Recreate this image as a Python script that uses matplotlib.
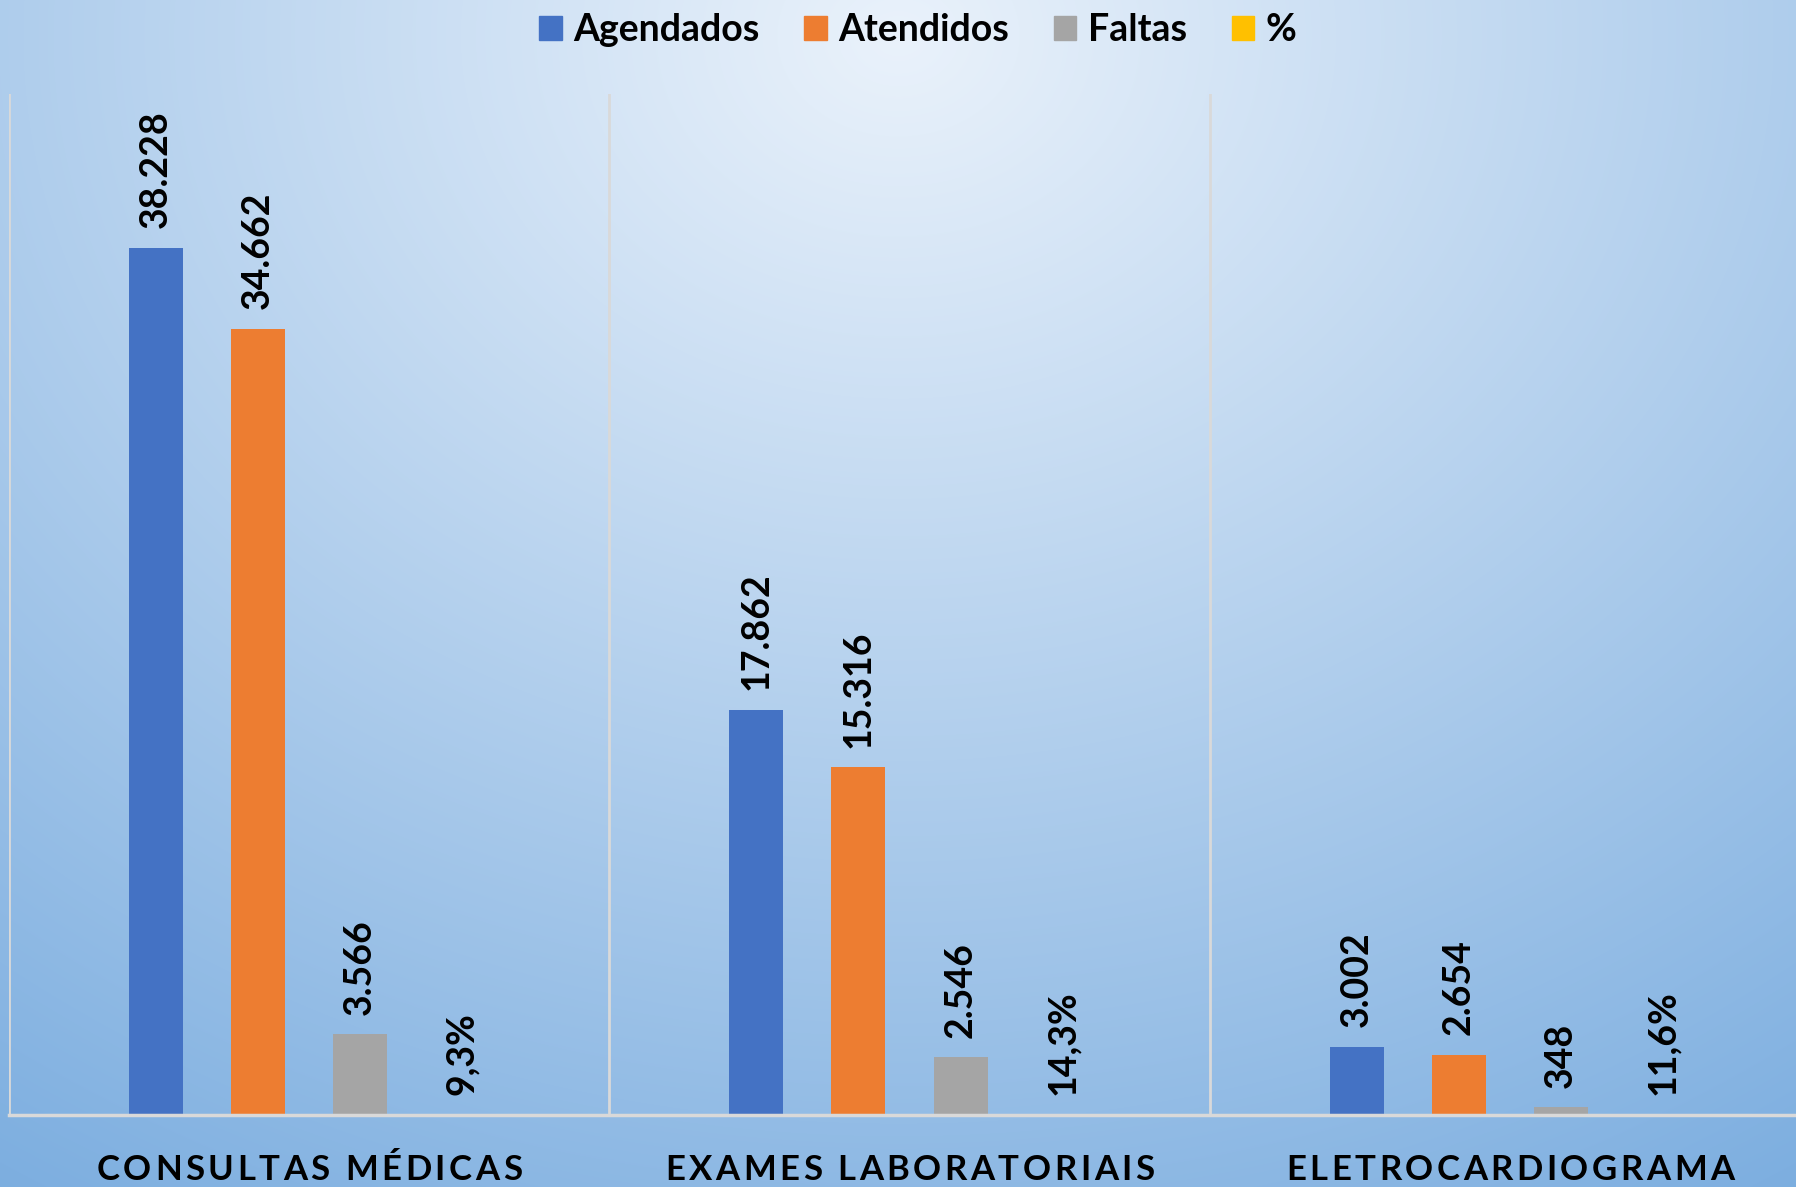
import numpy as np
import matplotlib.pyplot as plt
from matplotlib.patches import Patch
from matplotlib.font_manager import FontProperties

# Dados do gráfico
categorias = ['CONSULTAS MÉDICAS', 'EXAMES LABORATORIAIS', 'ELETROCARDIOGRAMA']
series = ['Agendados', 'Atendidos', 'Faltas', '%']
agendados = [38228, 17862, 3002]
atendidos = [34662, 15316, 2654]
faltas = [3566, 2546, 348]
percentual = [9.3, 14.3, 11.6]

cores = ['#4472c4', '#ed7d31', '#a5a5a5', '#ffc000']

W, H = 1796, 1187
fig = plt.figure(figsize=(W / 100, H / 100), dpi=100)

# Fundo com gradiente radial
bg = fig.add_axes([0, 0, 1, 1], zorder=0)
yy, xx = np.mgrid[0:H, 0:W]
d = np.sqrt(((xx - W * 0.5) / 1750) ** 2 + ((yy - H * 0.03) / 1450) ** 2)
d = np.clip(d, 0, 1)[..., None]
c_in = np.array([234, 242, 251]) / 255
c_out = np.array([118, 170, 222]) / 255
bg.imshow(c_in * (1 - d) + c_out * d, aspect='auto')
bg.axis('off')

ax = fig.add_axes([9 / W, 72 / H, 1801 / W, 1021 / H], zorder=1)
ax.patch.set_alpha(0)

fonte = 'Lato'
x = np.arange(len(categorias))
largura = 0.09
passo = 0.17
valores = [agendados, atendidos, faltas, percentual]

for i, (nome, vals) in enumerate(zip(series, valores)):
    pos = x + (i - 1.5) * passo
    ax.bar(pos, vals, width=largura, color=cores[i], zorder=3)
    for px, v in zip(pos, vals):
        if nome == '%':
            txt = f'{v:.1f}%'.replace('.', ',')
        else:
            txt = f'{v:,}'.replace(',', '.')
        ax.annotate(txt, (px, v), xytext=(0, 14), textcoords='offset points',
                    rotation=90, ha='center', va='bottom', fontsize=27,
                    fontweight='bold', family=fonte, color='black')

ax.set_xlim(-0.5, 2.5)
ax.set_ylim(0, 45000)
for xv in [-0.5, 0.5, 1.5]:
    ax.axvline(xv, color='#d9d9d9', lw=2, zorder=2)
ax.axhline(0, color='#d9d9d9', lw=2.5, zorder=4, clip_on=False)
for s in ax.spines.values():
    s.set_visible(False)
ax.set_xticks([])
ax.set_yticks([])

# Rótulos das categorias com espaçamento entre letras
renderer = fig.canvas.get_renderer()
kw = dict(fontsize=25, fontweight='bold', family=fonte, color='black')


def largura_txt(t):
    tt = fig.text(0, 0, t, **kw)
    w = tt.get_window_extent(renderer).width
    tt.remove()
    return w


def texto_espacado(s, xc, y_base, track):
    barra = largura_txt('|')
    avancos = [largura_txt(c + '|') - barra for c in s]
    total = sum(avancos) + track * (len(s) - 1)
    xp = xc - total / 2
    for c, a in zip(s, avancos):
        fig.text(xp / W, y_base, c, ha='left', va='baseline', **kw)
        xp += a + track


for i, cat in enumerate(categorias):
    centro = 9 + (i + 0.5) * 600.5
    texto_espacado(cat, centro, (H - 1180) / H, 3.5)

handles = [Patch(color=c) for c in cores]
fig.legend(handles, series, loc='center', bbox_to_anchor=(0.511, 1 - 30 / H),
           ncol=4, frameon=False,
           prop=FontProperties(family=fonte, weight='bold', size=27),
           handlelength=0.6, handleheight=0.6, handletextpad=0.3,
           columnspacing=1.2)

fig.savefig('out.png', dpi=100)
